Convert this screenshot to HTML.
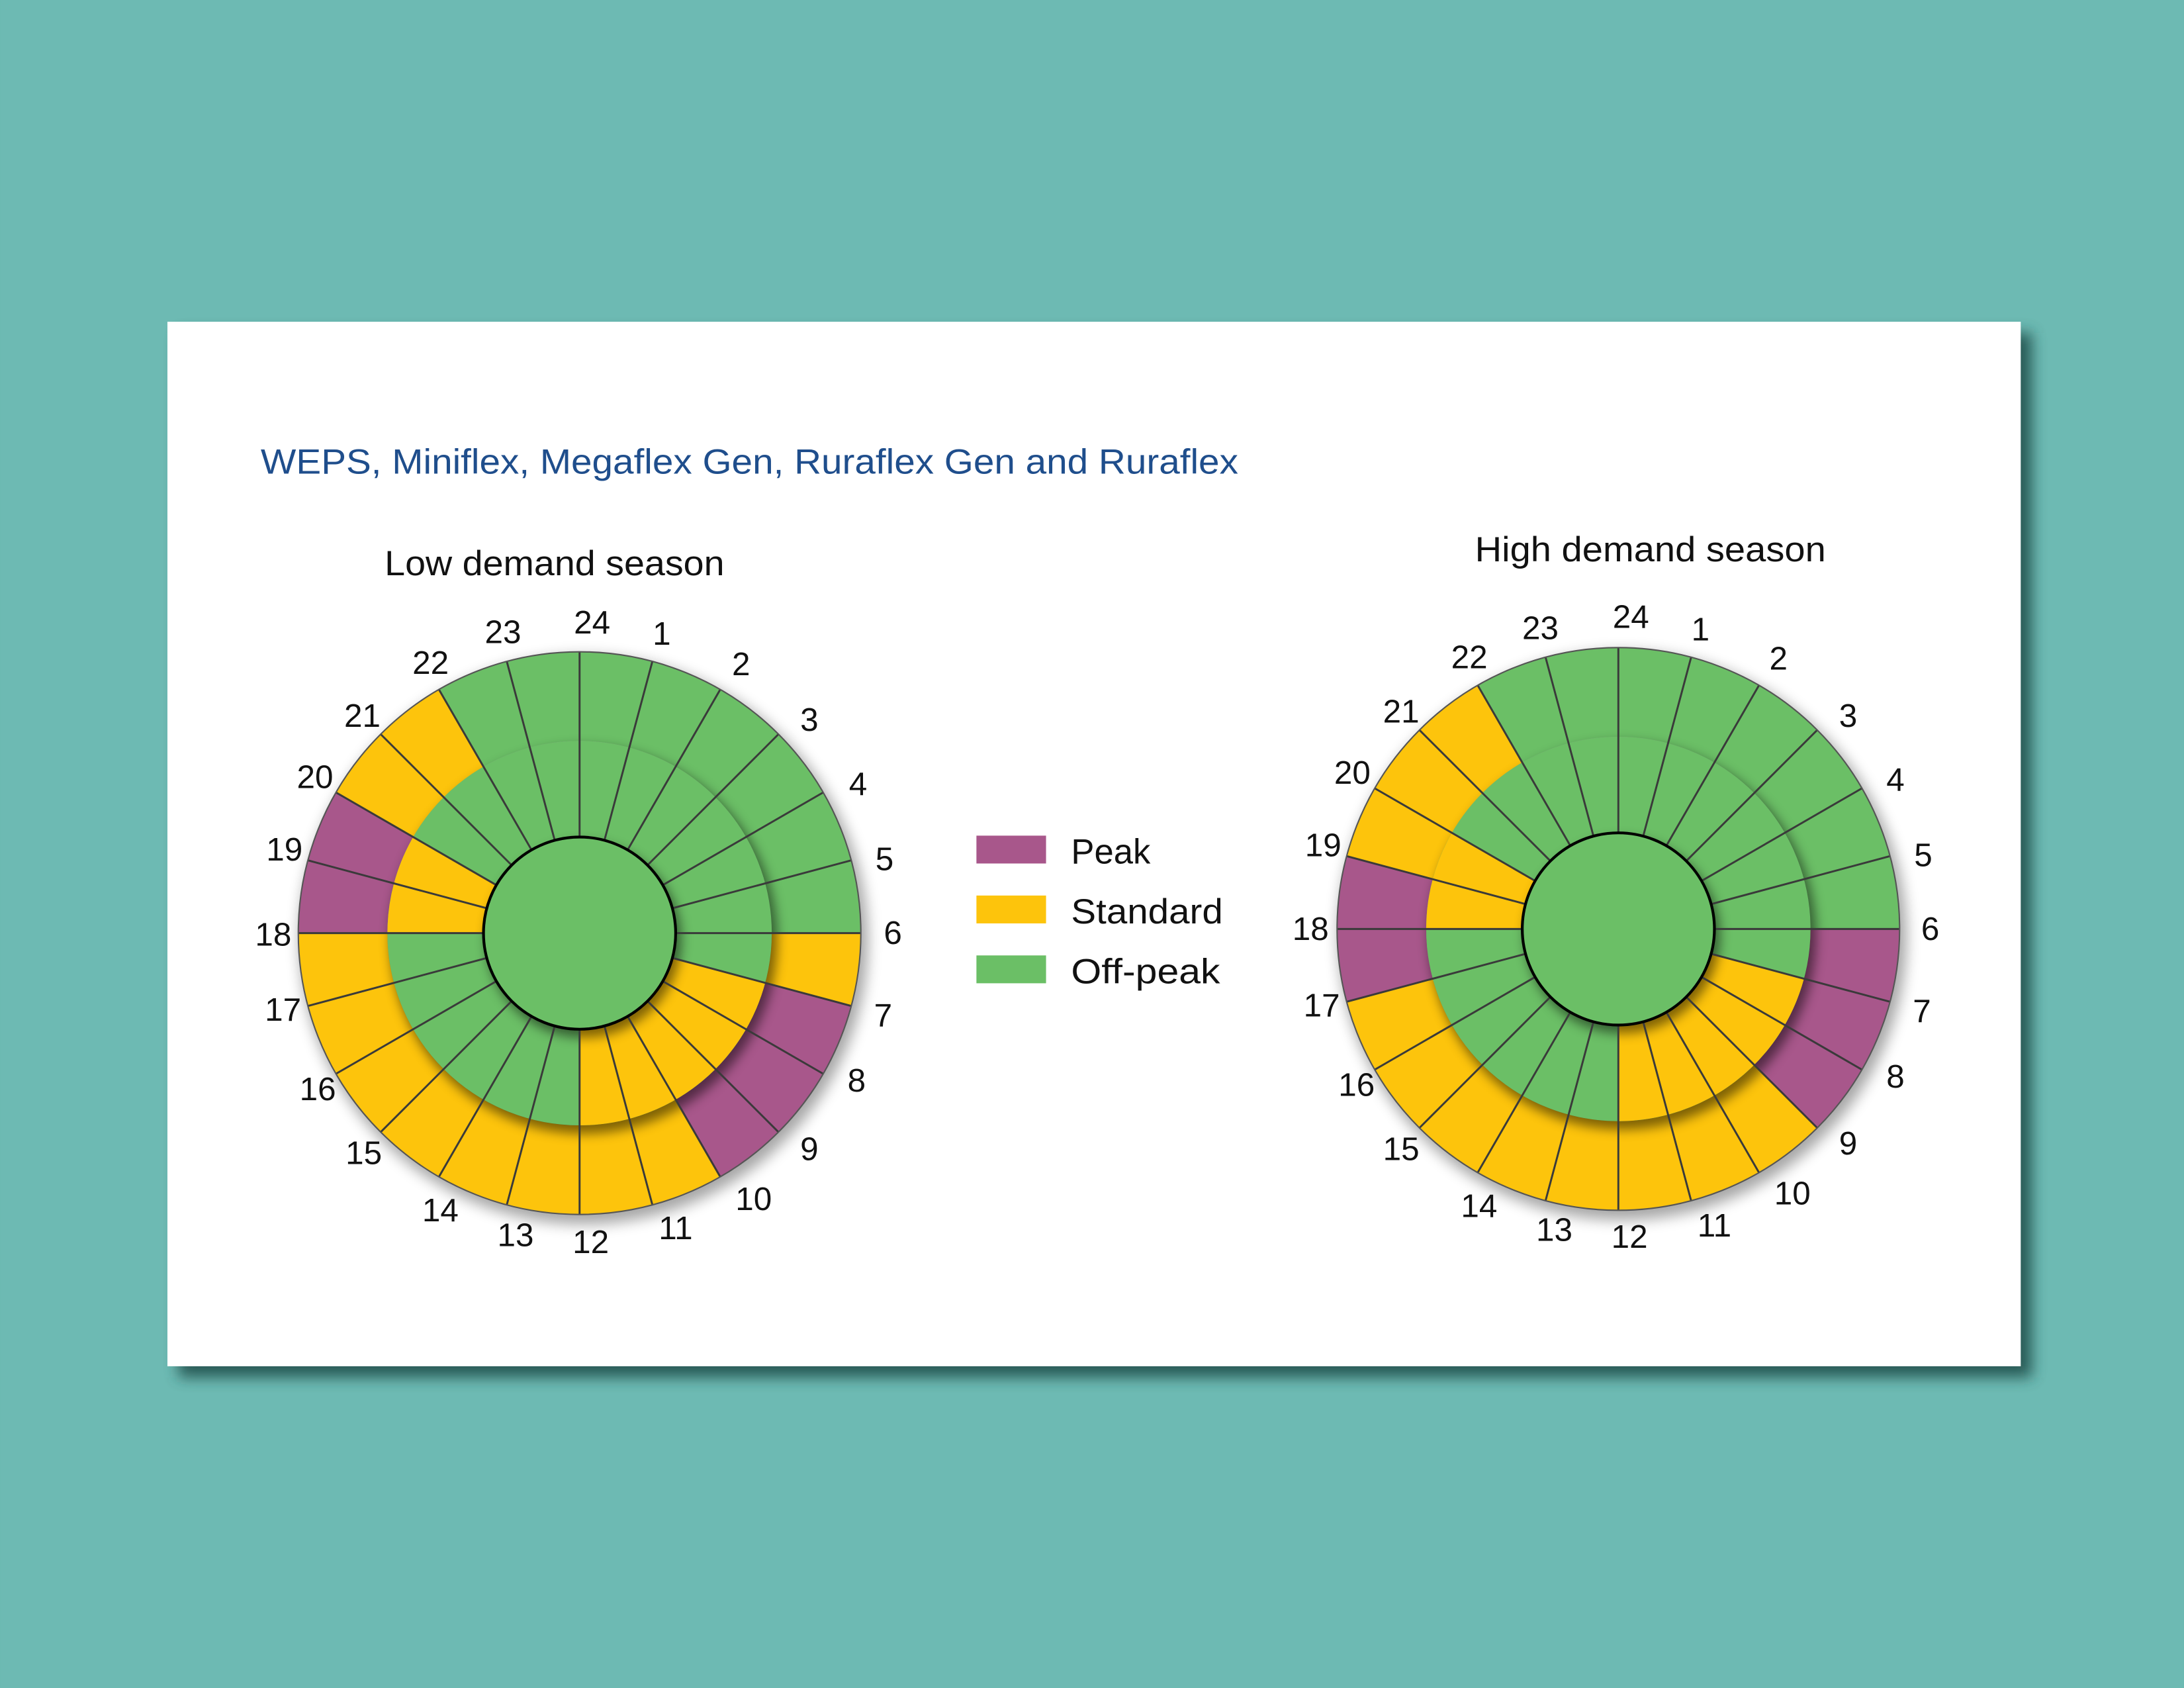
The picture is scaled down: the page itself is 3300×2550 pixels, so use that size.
<!DOCTYPE html>
<html><head><meta charset="utf-8">
<style>html,body{margin:0;padding:0;background:#6dbab3;}svg{display:block;}</style>
</head><body>
<svg width="3300" height="2550" viewBox="0 0 1568 1212" xmlns="http://www.w3.org/2000/svg" font-family="Liberation Sans, DejaVu Sans, sans-serif">
<defs>
<filter id="cs" x="-10%" y="-10%" width="130%" height="130%"><feGaussianBlur stdDeviation="5"/></filter>
<filter id="sb" x="-20%" y="-20%" width="140%" height="140%"><feGaussianBlur stdDeviation="4"/></filter>
</defs>
<rect width="1568" height="1212" fill="#6dbab3"/>
<rect x="128" y="239" width="1331" height="750" fill="#23514d" filter="url(#cs)" opacity="0.9"/>
<rect x="120" y="231" width="1331" height="750" fill="#ffffff"/>
<text x="187" y="340" font-size="25" fill="#1f4e8c" textLength="702" lengthAdjust="spacingAndGlyphs">WEPS, Miniflex, Megaflex Gen, Ruraflex Gen and Ruraflex</text>
<text x="398" y="413" font-size="25" text-anchor="middle" fill="#111" textLength="244" lengthAdjust="spacingAndGlyphs">Low demand season</text>
<text x="1185" y="403" font-size="25" text-anchor="middle" fill="#111" textLength="252" lengthAdjust="spacingAndGlyphs">High demand season</text>

<rect x="701" y="600" width="50" height="20" fill="#a8578b"/>
<rect x="701" y="643" width="50" height="20" fill="#fdc40c"/>
<rect x="701" y="686" width="50" height="20" fill="#6bbf66"/>
<g font-size="25" fill="#111">
<text x="769" y="620" textLength="57" lengthAdjust="spacingAndGlyphs">Peak</text>
<text x="769" y="663" textLength="109" lengthAdjust="spacingAndGlyphs">Standard</text>
<text x="769" y="706" textLength="107" lengthAdjust="spacingAndGlyphs">Off-peak</text>
</g>

<g transform="translate(416,670)">
<circle cx="3" cy="5" r="204" fill="#000" opacity="0.35" filter="url(#cs)"/>
<circle r="170" fill="none" stroke="#6bbf66" stroke-width="64"/>
<g fill="none" stroke-width="64">
<circle r="170" stroke="#fdc40c" stroke-dasharray="44.506 2000" transform="rotate(0)"/>
<circle r="170" stroke="#a8578b" stroke-dasharray="133.52 2000" transform="rotate(15)"/>
<circle r="170" stroke="#fdc40c" stroke-dasharray="356.05 2000" transform="rotate(60)"/>
<circle r="170" stroke="#a8578b" stroke-dasharray="89.01 2000" transform="rotate(180)"/>
<circle r="170" stroke="#fdc40c" stroke-dasharray="89.01 2000" transform="rotate(210)"/>
</g>
<circle cx="3" cy="5" r="139" fill="#000" opacity="0.5" filter="url(#sb)"/>
<circle r="103.5" fill="none" stroke="#6bbf66" stroke-width="69"/>
<g fill="none" stroke-width="69">
<circle r="103.5" stroke="#fdc40c" stroke-dasharray="135.48 2000" transform="rotate(15)"/>
<circle r="103.5" stroke="#fdc40c" stroke-dasharray="54.19 2000" transform="rotate(180)"/>
</g>
<circle cx="3" cy="5" r="70" fill="#000" opacity="0.5" filter="url(#sb)"/>
<g stroke="#3a3a3a" stroke-width="1.4">
<line x1="0" y1="-69" x2="0" y2="-202" transform="rotate(0)"/><line x1="0" y1="-69" x2="0" y2="-202" transform="rotate(15)"/><line x1="0" y1="-69" x2="0" y2="-202" transform="rotate(30)"/><line x1="0" y1="-69" x2="0" y2="-202" transform="rotate(45)"/><line x1="0" y1="-69" x2="0" y2="-202" transform="rotate(60)"/><line x1="0" y1="-69" x2="0" y2="-202" transform="rotate(75)"/><line x1="0" y1="-69" x2="0" y2="-202" transform="rotate(90)"/><line x1="0" y1="-69" x2="0" y2="-202" transform="rotate(105)"/><line x1="0" y1="-69" x2="0" y2="-202" transform="rotate(120)"/><line x1="0" y1="-69" x2="0" y2="-202" transform="rotate(135)"/><line x1="0" y1="-69" x2="0" y2="-202" transform="rotate(150)"/><line x1="0" y1="-69" x2="0" y2="-202" transform="rotate(165)"/><line x1="0" y1="-69" x2="0" y2="-202" transform="rotate(180)"/><line x1="0" y1="-69" x2="0" y2="-202" transform="rotate(195)"/><line x1="0" y1="-69" x2="0" y2="-202" transform="rotate(210)"/><line x1="0" y1="-69" x2="0" y2="-202" transform="rotate(225)"/><line x1="0" y1="-69" x2="0" y2="-202" transform="rotate(240)"/><line x1="0" y1="-69" x2="0" y2="-202" transform="rotate(255)"/><line x1="0" y1="-69" x2="0" y2="-202" transform="rotate(270)"/><line x1="0" y1="-69" x2="0" y2="-202" transform="rotate(285)"/><line x1="0" y1="-69" x2="0" y2="-202" transform="rotate(300)"/><line x1="0" y1="-69" x2="0" y2="-202" transform="rotate(315)"/><line x1="0" y1="-69" x2="0" y2="-202" transform="rotate(330)"/><line x1="0" y1="-69" x2="0" y2="-202" transform="rotate(345)"/>
</g>
<circle r="202" fill="none" stroke="#555" stroke-width="1"/>
<circle r="69" fill="#6bbf66" stroke="#000" stroke-width="2"/>
</g>
<g font-size="23.5" fill="#111" text-anchor="middle" dominant-baseline="central">
<text x="425" y="447">24</text><text x="475" y="455">1</text><text x="532" y="477">2</text><text x="581" y="517">3</text><text x="616" y="563">4</text><text x="635" y="617">5</text><text x="641" y="670">6</text><text x="634" y="729">7</text><text x="615" y="776">8</text><text x="581" y="825">9</text><text x="541" y="861">10</text><text x="485" y="882">11</text><text x="424" y="892">12</text><text x="370" y="887">13</text><text x="316" y="869">14</text><text x="261" y="828">15</text><text x="228" y="782">16</text><text x="203" y="725">17</text><text x="196" y="671">18</text><text x="204" y="610">19</text><text x="226" y="558">20</text><text x="260" y="514">21</text><text x="309" y="476">22</text><text x="361" y="454">23</text>
</g>

<g transform="translate(1162,667)">
<circle cx="3" cy="5" r="204" fill="#000" opacity="0.35" filter="url(#cs)"/>
<circle r="170" fill="none" stroke="#6bbf66" stroke-width="64"/>
<g fill="none" stroke-width="64">
<circle r="170" stroke="#a8578b" stroke-dasharray="133.52 2000" transform="rotate(0)"/>
<circle r="170" stroke="#fdc40c" stroke-dasharray="356.05 2000" transform="rotate(45)"/>
<circle r="170" stroke="#a8578b" stroke-dasharray="89.01 2000" transform="rotate(165)"/>
<circle r="170" stroke="#fdc40c" stroke-dasharray="133.52 2000" transform="rotate(195)"/>
</g>
<circle cx="3" cy="5" r="139" fill="#000" opacity="0.5" filter="url(#sb)"/>
<circle r="103.5" fill="none" stroke="#6bbf66" stroke-width="69"/>
<g fill="none" stroke-width="69">
<circle r="103.5" stroke="#fdc40c" stroke-dasharray="135.48 2000" transform="rotate(15)"/>
<circle r="103.5" stroke="#fdc40c" stroke-dasharray="54.19 2000" transform="rotate(180)"/>
</g>
<circle cx="3" cy="5" r="70" fill="#000" opacity="0.5" filter="url(#sb)"/>
<g stroke="#3a3a3a" stroke-width="1.4">
<line x1="0" y1="-69" x2="0" y2="-202" transform="rotate(0)"/><line x1="0" y1="-69" x2="0" y2="-202" transform="rotate(15)"/><line x1="0" y1="-69" x2="0" y2="-202" transform="rotate(30)"/><line x1="0" y1="-69" x2="0" y2="-202" transform="rotate(45)"/><line x1="0" y1="-69" x2="0" y2="-202" transform="rotate(60)"/><line x1="0" y1="-69" x2="0" y2="-202" transform="rotate(75)"/><line x1="0" y1="-69" x2="0" y2="-202" transform="rotate(90)"/><line x1="0" y1="-69" x2="0" y2="-202" transform="rotate(105)"/><line x1="0" y1="-69" x2="0" y2="-202" transform="rotate(120)"/><line x1="0" y1="-69" x2="0" y2="-202" transform="rotate(135)"/><line x1="0" y1="-69" x2="0" y2="-202" transform="rotate(150)"/><line x1="0" y1="-69" x2="0" y2="-202" transform="rotate(165)"/><line x1="0" y1="-69" x2="0" y2="-202" transform="rotate(180)"/><line x1="0" y1="-69" x2="0" y2="-202" transform="rotate(195)"/><line x1="0" y1="-69" x2="0" y2="-202" transform="rotate(210)"/><line x1="0" y1="-69" x2="0" y2="-202" transform="rotate(225)"/><line x1="0" y1="-69" x2="0" y2="-202" transform="rotate(240)"/><line x1="0" y1="-69" x2="0" y2="-202" transform="rotate(255)"/><line x1="0" y1="-69" x2="0" y2="-202" transform="rotate(270)"/><line x1="0" y1="-69" x2="0" y2="-202" transform="rotate(285)"/><line x1="0" y1="-69" x2="0" y2="-202" transform="rotate(300)"/><line x1="0" y1="-69" x2="0" y2="-202" transform="rotate(315)"/><line x1="0" y1="-69" x2="0" y2="-202" transform="rotate(330)"/><line x1="0" y1="-69" x2="0" y2="-202" transform="rotate(345)"/>
</g>
<circle r="202" fill="none" stroke="#555" stroke-width="1"/>
<circle r="69" fill="#6bbf66" stroke="#000" stroke-width="2"/>
</g>
<g font-size="23.5" fill="#111" text-anchor="middle" dominant-baseline="central">
<text x="1171" y="443">24</text><text x="1221" y="452">1</text><text x="1277" y="473">2</text><text x="1327" y="514">3</text><text x="1361" y="560">4</text><text x="1381" y="614">5</text><text x="1386" y="667">6</text><text x="1380" y="726">7</text><text x="1361" y="773">8</text><text x="1327" y="821">9</text><text x="1287" y="857">10</text><text x="1231" y="880">11</text><text x="1170" y="888">12</text><text x="1116" y="883">13</text><text x="1062" y="866">14</text><text x="1006" y="825">15</text><text x="974" y="779">16</text><text x="949" y="722">17</text><text x="941" y="667">18</text><text x="950" y="607">19</text><text x="971" y="555">20</text><text x="1006" y="511">21</text><text x="1055" y="472">22</text><text x="1106" y="451">23</text>
</g>
</svg>
</body></html>
